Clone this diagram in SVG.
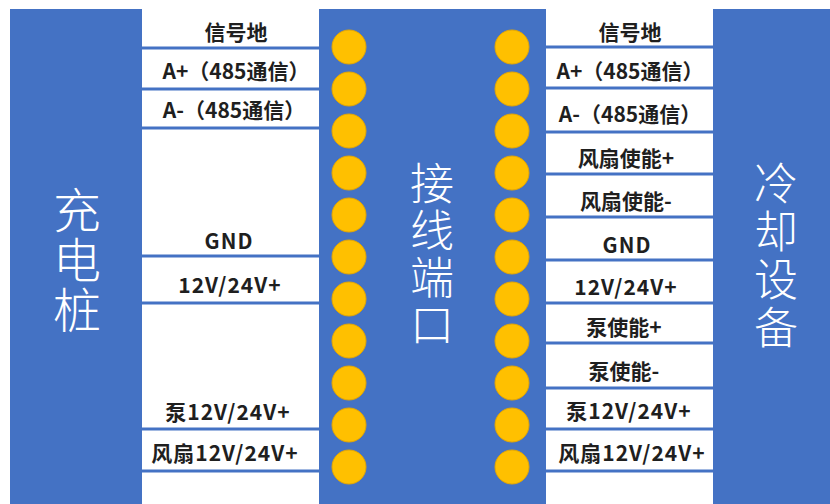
<svg xmlns="http://www.w3.org/2000/svg" width="830" height="504" viewBox="0 0 830 504">
<defs>
<style>
.box{fill:#4472C4}
.dot{fill:#FFC000;stroke:#E6A700;stroke-width:1}
.ln{stroke:#4472C4;stroke-width:3}
.lbl{font-family:"Noto Sans CJK SC","Noto Sans",sans-serif;font-size:21px;font-weight:600;fill:#1f1f1f;text-anchor:middle;dominant-baseline:central}
.sp{letter-spacing:1px}
.big{font-family:"Noto Sans CJK SC","Noto Sans",sans-serif;font-weight:300;fill:#ffffff;text-anchor:middle;writing-mode:vertical-rl}
</style>
</defs>
<rect width="830" height="504" fill="#ffffff"/>
<g id="charger">
<rect class="box" x="10" y="9" width="132" height="495"/>
<text class="big" x="77" y="261" font-size="48" letter-spacing="2">充电桩</text>
</g>
<g id="terminal">
<rect class="box" x="319" y="9" width="227" height="495"/>
<text class="big" x="432" y="255" font-size="44" letter-spacing="3">接线端口</text>
<g id="dots-left">
<circle class="dot" cx="349" cy="47" r="17"/>
<circle class="dot" cx="349" cy="89" r="17"/>
<circle class="dot" cx="349" cy="131" r="17"/>
<circle class="dot" cx="349" cy="173" r="17"/>
<circle class="dot" cx="349" cy="215" r="17"/>
<circle class="dot" cx="349" cy="257" r="17"/>
<circle class="dot" cx="349" cy="299" r="17"/>
<circle class="dot" cx="349" cy="341" r="17"/>
<circle class="dot" cx="349" cy="383" r="17"/>
<circle class="dot" cx="349" cy="425" r="17"/>
<circle class="dot" cx="349" cy="467" r="17"/>
</g>
<g id="dots-right">
<circle class="dot" cx="512" cy="47" r="17"/>
<circle class="dot" cx="512" cy="89" r="17"/>
<circle class="dot" cx="512" cy="131" r="17"/>
<circle class="dot" cx="512" cy="173" r="17"/>
<circle class="dot" cx="512" cy="215" r="17"/>
<circle class="dot" cx="512" cy="257" r="17"/>
<circle class="dot" cx="512" cy="299" r="17"/>
<circle class="dot" cx="512" cy="341" r="17"/>
<circle class="dot" cx="512" cy="383" r="17"/>
<circle class="dot" cx="512" cy="425" r="17"/>
<circle class="dot" cx="512" cy="467" r="17"/>
</g>
</g>
<g id="cooler">
<rect class="box" x="713" y="9" width="117" height="495"/>
<text class="big" x="776" y="257" font-size="44" letter-spacing="4">冷却设备</text>
</g>
<g id="connectors">
<line class="ln" x1="142" y1="48" x2="319" y2="48"/>
<line class="ln" x1="142" y1="89" x2="319" y2="89"/>
<line class="ln" x1="142" y1="128" x2="319" y2="128"/>
<line class="ln" x1="142" y1="256" x2="319" y2="256"/>
<line class="ln" x1="142" y1="303" x2="319" y2="303"/>
<line class="ln" x1="142" y1="429" x2="319" y2="429"/>
<line class="ln" x1="142" y1="471" x2="319" y2="471"/>
<line class="ln" x1="546" y1="47" x2="713" y2="47"/>
<line class="ln" x1="546" y1="88" x2="713" y2="88"/>
<line class="ln" x1="546" y1="132" x2="713" y2="132"/>
<line class="ln" x1="546" y1="174" x2="713" y2="174"/>
<line class="ln" x1="546" y1="217" x2="713" y2="217"/>
<line class="ln" x1="546" y1="260" x2="713" y2="260"/>
<line class="ln" x1="546" y1="303" x2="713" y2="303"/>
<line class="ln" x1="546" y1="343" x2="713" y2="343"/>
<line class="ln" x1="546" y1="388" x2="713" y2="388"/>
<line class="ln" x1="546" y1="429" x2="713" y2="429"/>
<line class="ln" x1="546" y1="471" x2="713" y2="471"/>
</g>
<g id="labels-left">
<text class="lbl" x="236" y="31">信号地</text>
<text class="lbl" x="236" y="70">A+（485通信）</text>
<text class="lbl" x="234" y="109">A-（485通信）</text>
<text class="lbl sp" x="229" y="240">GND</text>
<text class="lbl sp" x="230" y="284">12V/24V+</text>
<text class="lbl sp" x="228" y="411">泵12V/24V+</text>
<text class="lbl sp" x="225" y="452">风扇12V/24V+</text>
</g>
<g id="labels-right">
<text class="lbl" x="630" y="31">信号地</text>
<text class="lbl" x="630" y="70">A+（485通信）</text>
<text class="lbl" x="630" y="113">A-（485通信）</text>
<text class="lbl" x="626" y="157">风扇使能+</text>
<text class="lbl" x="626" y="200">风扇使能-</text>
<text class="lbl sp" x="627" y="244">GND</text>
<text class="lbl sp" x="626" y="286">12V/24V+</text>
<text class="lbl" x="624" y="326">泵使能+</text>
<text class="lbl" x="624" y="370">泵使能-</text>
<text class="lbl sp" x="629" y="410">泵12V/24V+</text>
<text class="lbl sp" x="632" y="452">风扇12V/24V+</text>
</g>
</svg>
